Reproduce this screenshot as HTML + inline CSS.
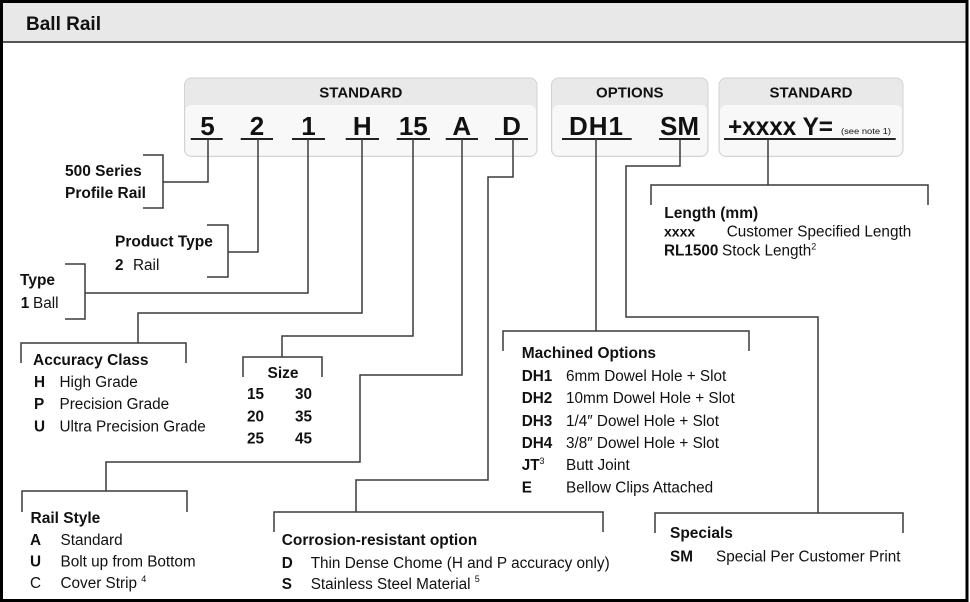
<!DOCTYPE html>
<html>
<head>
<meta charset="utf-8">
<style>
  html,body{margin:0;padding:0;background:#fff;}
  svg{display:block;}
  text{font-family:"Liberation Sans",Arial,sans-serif;fill:#111;}
  .h{font-weight:bold;font-size:15.5px;}
  .r{font-size:15.3px;}
  .b{font-weight:bold;font-size:15.3px;}
  .code{font-weight:bold;font-size:26px;text-anchor:middle;}
  .hdr{font-weight:bold;font-size:15px;text-anchor:middle;}
  .ln{fill:none;stroke:#3a3a3a;stroke-width:1.5;}
  .ul{stroke:#222;stroke-width:2;}
</style>
</head>
<body>
<svg width="970" height="602" viewBox="0 0 970 602" xmlns="http://www.w3.org/2000/svg">
  <rect width="970" height="602" fill="#fff"/>
  <!-- title band -->
  <rect x="3" y="3" width="963" height="38.5" fill="#e8e8e8"/>
  <line x1="3" y1="42" x2="966" y2="42" stroke="#555" stroke-width="2"/>
  <rect x="1.5" y="1.5" width="965.5" height="599" fill="none" stroke="#000" stroke-width="3"/>
  <text x="26" y="30" style="font-weight:bold;font-size:19px;">Ball Rail</text>

  <!-- boxes -->
  <rect x="184.5" y="78" width="352.5" height="78.5" rx="7" fill="#e9e9e9" stroke="#d2d2d2"/>
  <rect x="185.5" y="105" width="350.5" height="50.5" rx="6" fill="#f8f8f8"/>
  <rect x="551.5" y="78" width="156.5" height="78.5" rx="7" fill="#e9e9e9" stroke="#d2d2d2"/>
  <rect x="552.5" y="105" width="154.5" height="50.5" rx="6" fill="#f8f8f8"/>
  <rect x="719" y="78" width="184" height="78.5" rx="7" fill="#e9e9e9" stroke="#d2d2d2"/>
  <rect x="720" y="105" width="182" height="50.5" rx="6" fill="#f8f8f8"/>

  <text class="hdr" x="360.8" y="97.5">STANDARD</text>
  <text class="hdr" x="629.8" y="97.5">OPTIONS</text>
  <text class="hdr" x="811" y="97.5">STANDARD</text>

  <!-- code characters -->
  <text class="code" x="207.5" y="135">5</text>
  <text class="code" x="257" y="135">2</text>
  <text class="code" x="308.5" y="135">1</text>
  <text class="code" x="362.3" y="135">H</text>
  <text class="code" x="413.3" y="135">15</text>
  <text class="code" x="461.8" y="135">A</text>
  <text class="code" x="511.5" y="135">D</text>
  <text class="code" x="596.5" y="135" style="letter-spacing:1px">DH1</text>
  <text class="code" x="679.5" y="135">SM</text>
  <text x="728" y="135" style="font-weight:bold;font-size:25px;" textLength="105" lengthAdjust="spacingAndGlyphs">+xxxx Y=</text>
  <text x="841" y="134" style="font-size:8.5px;" textLength="50" lengthAdjust="spacingAndGlyphs">(see note 1)</text>

  <!-- underlines -->
  <line class="ul" x1="190.7" y1="139" x2="222.7" y2="139"/>
  <line class="ul" x1="240.7" y1="139" x2="273" y2="139"/>
  <line class="ul" x1="292" y1="139" x2="325" y2="139"/>
  <line class="ul" x1="345.7" y1="139" x2="379" y2="139"/>
  <line class="ul" x1="396.7" y1="139" x2="430" y2="139"/>
  <line class="ul" x1="445.7" y1="139" x2="478" y2="139"/>
  <line class="ul" x1="495" y1="139" x2="528" y2="139"/>
  <line class="ul" x1="562" y1="139" x2="631.7" y2="139"/>
  <line class="ul" x1="659" y1="139" x2="700" y2="139"/>
  <line class="ul" x1="724" y1="139" x2="895.7" y2="139"/>

  <!-- connectors -->
  <polyline class="ln" points="208,139 208,182 163,182"/>
  <polyline class="ln" points="143,155 163,155 163,208 143,208"/>

  <polyline class="ln" points="258,139 258,252 228,252"/>
  <polyline class="ln" points="207,225 228,225 228,277 207,277"/>

  <polyline class="ln" points="308,139 308,293 85,293"/>
  <polyline class="ln" points="65,264 85,264 85,319 65,319"/>

  <polyline class="ln" points="362,139 362,313 138,313 138,343"/>
  <polyline class="ln" points="21,363 21,343 186,343 186,363"/>

  <polyline class="ln" points="413,139 413,336 282,336 282,357"/>
  <polyline class="ln" points="243,377 243,357 322,357 322,377"/>

  <polyline class="ln" points="462,139 462,375 360,375 360,462 106,462 106,491"/>
  <polyline class="ln" points="22,512 22,491 187,491 187,512"/>

  <polyline class="ln" points="513,139 513,177 488,177 488,480 356,480 356,512"/>
  <polyline class="ln" points="274,532 274,512 603,512 603,532"/>

  <polyline class="ln" points="596,139 596,331"/>
  <polyline class="ln" points="503,351 503,331 749,331 749,351"/>

  <polyline class="ln" points="680,139 680,166 626,166 626,317 818,317 818,513"/>
  <polyline class="ln" points="655,533 655,513 903,513 903,533"/>

  <polyline class="ln" points="768,139 768,185"/>
  <polyline class="ln" points="651,205 651,185 928,185 928,205"/>

  <!-- left labels -->
  <text class="h" x="65" y="176">500 Series</text>
  <text class="h" x="65" y="198">Profile Rail</text>

  <text class="h" x="115" y="246.7">Product Type</text>
  <text class="b" x="115" y="270">2</text>
  <text class="r" x="133" y="270">Rail</text>

  <text class="h" x="20" y="285">Type</text>
  <text class="b" x="20.7" y="308">1</text>
  <text class="r" x="33" y="308">Ball</text>

  <!-- accuracy -->
  <text class="h" x="33" y="365">Accuracy Class</text>
  <text class="b" x="34" y="387">H</text><text class="r" x="59.5" y="387">High Grade</text>
  <text class="b" x="34" y="409">P</text><text class="r" x="59.5" y="409">Precision Grade</text>
  <text class="b" x="34" y="431.5">U</text><text class="r" x="59.5" y="431.5">Ultra Precision Grade</text>

  <!-- size -->
  <text class="h" x="283" y="378" text-anchor="middle">Size</text>
  <text class="b" x="247" y="399">15</text><text class="b" x="295" y="399">30</text>
  <text class="b" x="247" y="421.5">20</text><text class="b" x="295" y="421.5">35</text>
  <text class="b" x="247" y="443.5">25</text><text class="b" x="295" y="443.5">45</text>

  <!-- rail style -->
  <text class="h" x="30.5" y="523">Rail Style</text>
  <text class="b" x="30" y="545">A</text><text class="r" x="60.5" y="545">Standard</text>
  <text class="b" x="30" y="566.5">U</text><text class="r" x="60.5" y="566.5">Bolt up from Bottom</text>
  <text class="r" x="30" y="588">C</text><text class="r" x="60.5" y="588">Cover Strip <tspan style="font-size:9px" dy="-6">4</tspan></text>

  <!-- corrosion -->
  <text class="h" x="281.7" y="545">Corrosion-resistant option</text>
  <text class="b" x="281.7" y="568">D</text><text class="r" x="310.7" y="568">Thin Dense Chome (H and P accuracy only)</text>
  <text class="b" x="281.7" y="589">S</text><text class="r" x="310.7" y="589">Stainless Steel Material <tspan style="font-size:9px" dy="-7">5</tspan></text>

  <!-- machined options -->
  <text class="h" x="521.7" y="358">Machined Options</text>
  <text class="b" x="521.7" y="381">DH1</text><text class="r" x="566" y="381">6mm Dowel Hole + Slot</text>
  <text class="b" x="521.7" y="403">DH2</text><text class="r" x="566" y="403">10mm Dowel Hole + Slot</text>
  <text class="b" x="521.7" y="426">DH3</text><text class="r" x="566" y="426">1/4″ Dowel Hole + Slot</text>
  <text class="b" x="521.7" y="448">DH4</text><text class="r" x="566" y="448">3/8″ Dowel Hole + Slot</text>
  <text class="b" x="521.7" y="470">JT<tspan style="font-size:9px;font-weight:normal" dy="-6">3</tspan></text><text class="r" x="566" y="470">Butt Joint</text>
  <text class="b" x="521.7" y="492.5">E</text><text class="r" x="566" y="492.5">Bellow Clips Attached</text>

  <!-- specials -->
  <text class="h" x="670" y="538">Specials</text>
  <text class="b" x="670" y="561.5">SM</text><text class="r" x="716" y="561.5">Special Per Customer Print</text>

  <!-- length -->
  <text class="h" x="664.3" y="218">Length (mm)</text>
  <text class="b" x="664" y="236.7" style="font-size:14px">xxxx</text><text class="r" x="726.7" y="236.7">Customer Specified Length</text>
  <text class="b" x="664" y="255.5">RL1500</text><text class="r" x="722" y="255.5">Stock Length<tspan style="font-size:9px" dy="-6">2</tspan></text>
</svg>
</body>
</html>
